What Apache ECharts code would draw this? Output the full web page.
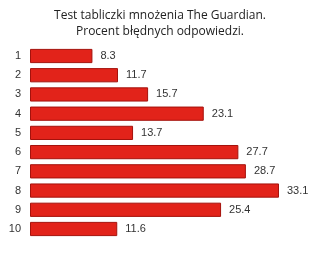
<!DOCTYPE html>
<html><head><meta charset="utf-8">
<script src="https://cdn.jsdelivr.net/npm/echarts@6/dist/echarts.min.js"></script>
<style>html,body{margin:0;padding:0;background:#fff}#c{width:320px;height:255px}</style>
</head><body><div id="c"></div>
<script>
const titleLines = ['Test tabliczki mnożenia The Guardian.', 'Procent błędnych odpowiedzi.'];
const categories = ['1','2','3','4','5','6','7','8','9','10'];
const values = [8.3, 11.7, 15.7, 23.1, 13.7, 27.7, 28.7, 33.1, 25.4, 11.6];

const chart = echarts.init(document.getElementById('c'), null, {renderer:'canvas'});
chart.setOption({
  animation:false,
  title:{text:titleLines.join('\n'), left:'center', top:3,
    textStyle:{fontFamily:'Open Sans', fontSize:12, fontWeight:'normal', color:'#222', lineHeight:16}},
  grid:{left:30, top:46.4, width:270.8, height:192.2},
  xAxis:{type:'value', min:0, max:36, show:false},
  yAxis:{type:'category', data:categories, inverse:true,
    axisLine:{show:false}, axisTick:{show:false},
    axisLabel:{margin:9, color:'#333', fontFamily:'Arial', fontSize:11}},
  series:[{type:'bar', data:values, barWidth:'74%',
    itemStyle:{color:'#e2231a', borderColor:'#a5120c', borderWidth:1},
    label:{show:true, position:'right', distance:8, color:'#333', fontFamily:'Arial', fontSize:11}}]
});
</script></body></html>
